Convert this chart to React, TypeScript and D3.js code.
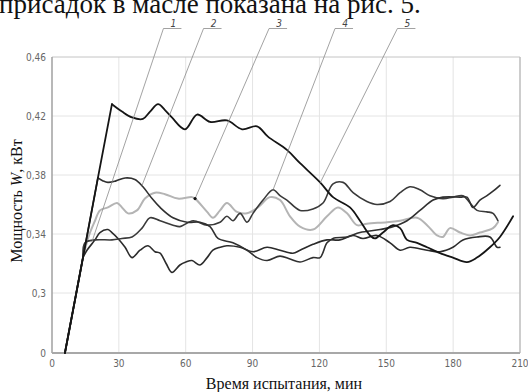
import React from "react";
import * as d3 from "d3";

// time, min / power, kW
const timeA = [5.8, 10.9, 20.6, 26.9, 31.4, 35.9, 40.8, 44, 47.6, 50.7, 53.8, 59.7, 65.1, 70.9, 78.5, 85.3, 92, 96.9, 105.4, 111.3, 120.3, 126.1, 133.7, 138.2, 142.7, 144.9, 148.5, 153, 156.2, 159.3, 163.8, 168.3, 174.1, 179.9, 186.2, 190.7, 196.5, 201, 206.9];
const powerA = [0, 0.3, 0.378, 0.428, 0.423, 0.419, 0.418, 0.423, 0.428, 0.424, 0.419, 0.411, 0.421, 0.416, 0.417, 0.411, 0.413, 0.406, 0.397, 0.388, 0.375, 0.365, 0.358, 0.349, 0.339, 0.337, 0.341, 0.346, 0.344, 0.336, 0.334, 0.331, 0.327, 0.324, 0.321, 0.324, 0.331, 0.338, 0.352];

const timeB = [5.8, 10.9, 20.6, 22.9, 25.1, 28.7, 32.8, 37.2, 40.8, 44.9, 48.5, 54.3, 60.6, 66.4, 70.9, 74.5, 81.2, 87.5, 92, 96.5, 102.3, 106.8, 111.3, 117.1, 120.3, 123.4, 126.1, 132.4, 138.2, 147.2, 153, 159.3, 165.1, 171, 175.4, 183.1, 186.2, 188.9, 192, 195.2, 197.9, 201];
const powerB = [0, 0.3, 0.378, 0.376, 0.375, 0.376, 0.378, 0.377, 0.372, 0.364, 0.358, 0.351, 0.348, 0.348, 0.345, 0.337, 0.334, 0.329, 0.324, 0.322, 0.325, 0.323, 0.321, 0.324, 0.324, 0.334, 0.337, 0.338, 0.341, 0.343, 0.345, 0.349, 0.356, 0.363, 0.365, 0.365, 0.365, 0.358, 0.363, 0.366, 0.369, 0.373];

const timeC = [5.8, 10.9, 13.9, 14.8, 19.3, 26.9, 31.4, 35.9, 40.4, 44, 48.5, 54.3, 57.4, 63.3, 69.6, 75.4, 78.5, 81.2, 84.4, 87.5, 90.2, 94.7, 99.2, 102.3, 105.4, 111.3, 117.1, 121.6, 126.1, 130.6, 135.1, 141.3, 145.8, 151.7, 156.2, 160.6, 165.1, 169.6, 175.4, 179.9, 184.4, 187.6, 190.7, 195.2, 197.9, 200.1];
const powerC = [0, 0.3, 0.324, 0.334, 0.336, 0.336, 0.337, 0.338, 0.344, 0.351, 0.349, 0.346, 0.345, 0.349, 0.346, 0.348, 0.352, 0.349, 0.354, 0.348, 0.354, 0.363, 0.37, 0.366, 0.363, 0.356, 0.357, 0.361, 0.374, 0.375, 0.368, 0.362, 0.36, 0.362, 0.368, 0.372, 0.37, 0.366, 0.364, 0.365, 0.366, 0.361, 0.356, 0.355, 0.354, 0.349];

const timeE = [5.8, 10.9, 13.9, 15.7, 19.3, 21.5, 25.1, 26.9, 29.6, 32.8, 35.9, 39.5, 43.1, 46.2, 48.5, 51.2, 53.8, 57.4, 60.1, 62.8, 66.4, 69.6, 72.2, 75.4, 78.5, 84.4, 90.2, 96.5, 102.3, 108.1, 111.3, 117.1, 123.4, 129.2, 135.1, 139.5, 145.8, 151.7, 156.2, 160.6, 168.3, 174.1, 179.9, 184.4, 190.7, 196.5, 199.7, 201];
const powerE = [0, 0.3, 0.324, 0.329, 0.336, 0.341, 0.343, 0.341, 0.337, 0.331, 0.324, 0.329, 0.332, 0.328, 0.327, 0.32, 0.314, 0.319, 0.321, 0.322, 0.319, 0.324, 0.329, 0.331, 0.332, 0.331, 0.328, 0.331, 0.329, 0.327, 0.329, 0.333, 0.336, 0.336, 0.339, 0.337, 0.339, 0.334, 0.329, 0.331, 0.329, 0.328, 0.331, 0.336, 0.338, 0.338, 0.331, 0.331];

const timeG = [5.8, 10.9, 13.9, 16.6, 19.3, 21.5, 25.1, 29.2, 31.4, 34.1, 38.1, 41.7, 46.2, 50.7, 56.5, 62.8, 64.2, 69.6, 72.2, 75.4, 78.5, 83, 87.5, 92.4, 97.8, 102.3, 106.8, 111.3, 117.1, 123.4, 128.3, 132.4, 136.9, 141.3, 150.3, 156.2, 163.8, 168.3, 172.8, 175.4, 178.6, 183.1, 187.6, 192, 197.9, 200.1];
const powerG = [0, 0.3, 0.324, 0.339, 0.349, 0.356, 0.358, 0.361, 0.358, 0.354, 0.356, 0.364, 0.368, 0.367, 0.364, 0.365, 0.364, 0.355, 0.351, 0.356, 0.361, 0.355, 0.354, 0.358, 0.365, 0.363, 0.352, 0.345, 0.343, 0.352, 0.358, 0.354, 0.346, 0.347, 0.348, 0.349, 0.351, 0.346, 0.339, 0.338, 0.344, 0.341, 0.339, 0.341, 0.344, 0.348];

const xTicks = [0, 30, 60, 90, 120, 150, 180, 210];
const yTicks = [0, 0.3, 0.34, 0.38, 0.42, 0.46];
const yTickLabels = ["0", "0,3", "0,34", "0,38", "0,42", "0,46"];

// callouts 1..5: where the label sits (min) and the point on the curve it points to
const calloutNames = ["1", "2", "3", "4", "5"];
const calloutLabelTime = [50, 68, 97.4, 127, 155];
const calloutTime = [17.9, 40.4, 64.2, 99.2, 120.3];
const calloutPower = [0.3346, 0.373, 0.364, 0.37, 0.3746];

// corner = index where the straight run-in ends and the wavy part begins
const series = [
  { t: timeG, p: powerG, corner: 2, color: "#b4b4b4", w: 2 },
  { t: timeE, p: powerE, corner: 2, color: "#2b2b2b", w: 1.6 },
  { t: timeC, p: powerC, corner: 2, color: "#3a3a3a", w: 1.6 },
  { t: timeB, p: powerB, corner: 2, color: "#303030", w: 1.6 },
  { t: timeA, p: powerA, corner: 3, color: "#151515", w: 1.8 },
];

export default function App() {
  const left = 52, right = 520, top = 57, bottom = 353;
  const x = d3.scaleLinear().domain([0, 210]).range([left, right]);
  // broken axis: 0..0.3 squeezed into one step
  const y = d3.scaleLinear().domain([0, 0.3, 0.46]).range([bottom, 293, top]);

  const wavy = d3
    .line<[number, number]>()
    .x((d) => x(d[0]))
    .y((d) => y(d[1]))
    .curve(d3.curveCatmullRom.alpha(0.5));
  const straight = d3
    .line<[number, number]>()
    .x((d) => x(d[0]))
    .y((d) => y(d[1]));

  const tickFont = "'DejaVu Sans Condensed', 'Liberation Sans Narrow', 'DejaVu Sans', sans-serif";
  const serif = "'Liberation Serif', 'Times New Roman', serif";

  return (
    <svg width={528} height={392} style={{ position: "absolute", left: 0, top: 0, background: "#fff" }}>
      <text x={-1} y={13} fontFamily={serif} fontSize={27} fill="#111">
        присадок в масле показана на рис. 5.
      </text>

      {/* grid */}
      {xTicks.slice(1, -1).map((t) => (
        <line key={"gx" + t} x1={x(t)} x2={x(t)} y1={top} y2={bottom} stroke="#e4e4e4" strokeWidth={1} />
      ))}
      {yTicks.slice(1).map((t) => (
        <line key={"gy" + t} x1={left} x2={right} y1={y(t)} y2={y(t)} stroke={t === 0.46 ? "#c4c4c4" : "#e4e4e4"} strokeWidth={1} />
      ))}
      <line x1={right} x2={right} y1={top} y2={bottom} stroke="#bdbdbd" strokeWidth={1.5} />
      <line x1={left} x2={left} y1={top} y2={bottom} stroke="#a0a0a0" strokeWidth={1.5} />
      <line x1={left} x2={right} y1={bottom} y2={bottom} stroke="#a8a8a8" strokeWidth={2} />

      {/* tick labels */}
      {yTicks.map((t, i) => (
        <text key={"ty" + t} x={46} y={y(t) + 3.5} textAnchor="end" fontFamily={tickFont} fontSize={10} fill="#666">
          {yTickLabels[i]}
        </text>
      ))}
      {xTicks.map((t) => (
        <text key={"tx" + t} x={x(t)} y={367} textAnchor="middle" fontFamily={tickFont} fontSize={10} fill="#666">
          {t}
        </text>
      ))}

      {/* curves */}
      {series.map((s, i) => {
        const pts = s.t.map((t, j) => [t, s.p[j]] as [number, number]);
        return (
          <g key={"s" + i} fill="none" stroke={s.color} strokeWidth={s.w} strokeLinejoin="round" strokeLinecap="round">
            <path d={straight(pts.slice(0, s.corner + 1)) || ""} />
            <path d={wavy(pts.slice(s.corner)) || ""} />
          </g>
        );
      })}

      {/* callouts */}
      {calloutNames.map((n, i) => {
        const lx = x(calloutLabelTime[i]);
        return (
          <g key={"c" + n}>
            <line x1={lx} y1={28.5} x2={x(calloutTime[i])} y2={y(calloutPower[i])} stroke="#8a8a8a" strokeWidth={0.8} />
            <line x1={lx} y1={28.5} x2={lx + 18} y2={28.5} stroke="#8a8a8a" strokeWidth={0.8} />
            <text x={lx + 10} y={27} textAnchor="middle" fontFamily={tickFont} fontStyle="italic" fontSize={10} fill="#444">
              {n}
            </text>
          </g>
        );
      })}
      <circle cx={x(calloutTime[2])} cy={y(calloutPower[2])} r={1.6} fill="#111" />

      {/* axis titles */}
      <text x={284} y={389} textAnchor="middle" fontFamily={serif} fontSize={16} fill="#111">
        Время испытания, мин
      </text>
      <text transform="translate(21.5,201) rotate(-90)" textAnchor="middle" fontFamily={serif} fontSize={16} fill="#111">
        Мощность <tspan fontStyle="italic">W</tspan>, кВт
      </text>
    </svg>
  );
}
